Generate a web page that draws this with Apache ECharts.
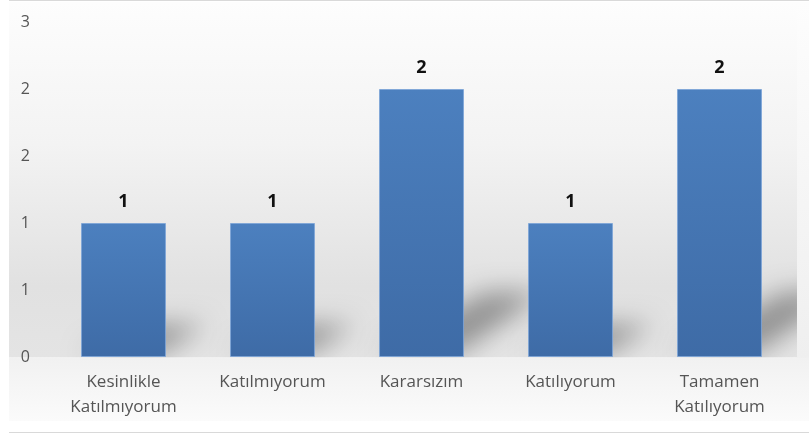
<!DOCTYPE html>
<html>
<head>
<meta charset="utf-8">
<script src="https://cdn.jsdelivr.net/npm/echarts@6/dist/echarts.min.js"></script>
<style>
  html, body { margin: 0; padding: 0; background: #ffffff; }
  #chart { width: 809px; height: 434px; }
</style>
</head>
<body>
<div id="chart"></div>
<script>
// Survey answer categories and their scores
const categories = ['Kesinlikle Katılmıyorum', 'Katılmıyorum', 'Kararsızım', 'Katılıyorum', 'Tamamen Katılıyorum'];
const values = [1.2, 1.2, 2.4, 1.2, 2.4];

// Value axis range (labels are shown rounded to whole numbers)
const axisMin = 0;
const axisMax = 3;
const axisStep = 0.6;

const FONT = '"Open Sans", "Liberation Sans", sans-serif';
const BAR_SHARE = 0.57;

const chart = echarts.init(document.getElementById('chart'), null, { renderer: 'canvas' });

// Soft perspective shadow cast by each bar onto the floor, up and to the right.
// The shape is drawn far off to the left and only its blurred shadow lands in view.
function renderFloorShadow(params, api) {
  const idx = api.value(0);
  const v = api.value(1);
  const base = api.coord([idx, 0]);
  const top = api.coord([idx, v]);
  const h = base[1] - top[1];
  const w = api.size([1, 0])[0] * BAR_SHARE;
  const x0 = base[0] - w / 2;
  const x1 = base[0] + w / 2;
  const y0 = base[1];
  const dx = h * 0.3;
  const dy = h * 0.24;
  const OFF = 3000;
  return {
    type: 'polygon',
    silent: true,
    shape: {
      points: [
        [x0 - OFF, y0 - 4],
        [x1 - 6 - OFF, y0 - 4],
        [x1 + dx - OFF, y0 - dy],
        [x0 + dx + w * 0.3 - OFF, y0 - dy]
      ]
    },
    style: {
      fill: '#000',
      shadowBlur: 26,
      shadowColor: 'rgba(0,0,0,0.36)',
      shadowOffsetX: OFF,
      shadowOffsetY: 0
    }
  };
}

const option = {
  animation: false,
  backgroundColor: '#ffffff',
  graphic: {
    elements: [
      // chart area behind the plot
      {
        type: 'rect', z: -10, silent: true,
        shape: { x: 9, y: 2, width: 800, height: 355.5 },
        style: {
          fill: new echarts.graphic.LinearGradient(0, 0, 0, 1, [
            { offset: 0, color: '#fdfdfd' },
            { offset: 0.4, color: '#f3f3f3' },
            { offset: 0.8, color: '#e1e1e1' },
            { offset: 1, color: '#e4e4e4' }
          ])
        }
      },
      // band below the category axis
      {
        type: 'rect', z: 2, silent: true,
        shape: { x: 9, y: 357.5, width: 800, height: 63.5 },
        style: {
          fill: new echarts.graphic.LinearGradient(0, 0, 0, 1, [
            { offset: 0, color: '#f1f1f1' },
            { offset: 1, color: '#fbfbfb' }
          ])
        }
      },
      // right margin strip
      {
        type: 'rect', z: 2, silent: true,
        shape: { x: 797, y: 2, width: 12, height: 355.5 },
        style: {
          fill: new echarts.graphic.LinearGradient(0, 0, 0, 1, [
            { offset: 0, color: '#fdfdfd' },
            { offset: 1, color: '#efefef' }
          ])
        }
      },
      // frame lines
      {
        type: 'line', z: 3, silent: true,
        shape: { x1: 9, y1: 0.5, x2: 809, y2: 0.5 },
        style: { stroke: '#d9d9d9', lineWidth: 1 }
      },
      {
        type: 'line', z: 3, silent: true,
        shape: { x1: 9, y1: 432.5, x2: 809, y2: 432.5 },
        style: { stroke: '#d9d9d9', lineWidth: 1 }
      }
    ]
  },
  grid: { left: 49, right: 15, top: 22, bottom: 77 },
  xAxis: {
    type: 'category',
    data: categories,
    z: 4,
    axisLine: { show: false },
    axisTick: { show: false },
    axisLabel: {
      interval: 0,
      margin: 13,
      color: '#555555',
      fontFamily: FONT,
      fontSize: 17,
      lineHeight: 25,
      formatter: (s) => s.replace(' ', '\n')
    }
  },
  yAxis: {
    type: 'value',
    min: axisMin,
    max: axisMax,
    interval: axisStep,
    z: 4,
    axisLine: { show: false },
    axisTick: { show: false },
    splitLine: { show: false },
    axisLabel: {
      margin: 19,
      color: '#555555',
      fontFamily: FONT,
      fontSize: 16,
      formatter: (v) => String(Math.round(v))
    }
  },
  series: [
    {
      type: 'custom',
      z: 1,
      silent: true,
      renderItem: renderFloorShadow,
      data: values.map((v, i) => [i, v])
    },
    {
      type: 'bar',
      z: 5,
      data: values,
      barWidth: (BAR_SHARE * 100) + '%',
      itemStyle: {
        color: new echarts.graphic.LinearGradient(0, 0, 0, 1, [
          { offset: 0, color: '#4c80bf' },
          { offset: 1, color: '#3e6ba6' }
        ]),
        borderColor: 'rgba(125,165,215,0.85)',
        borderWidth: 1
      },
      label: {
        show: true,
        position: 'top',
        distance: 12,
        color: '#111111',
        fontFamily: FONT,
        fontWeight: 'bold',
        fontSize: 18,
        formatter: (p) => String(Math.round(p.value))
      }
    }
  ]
};

chart.setOption(option);
</script>
</body>
</html>
